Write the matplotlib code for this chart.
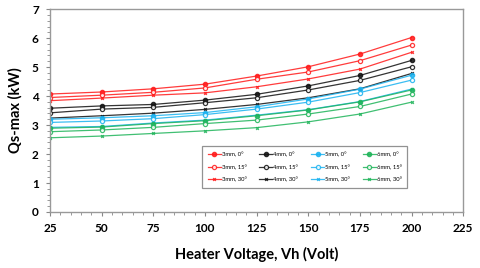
import matplotlib
matplotlib.use("Agg")
import matplotlib.pyplot as plt
from matplotlib.ticker import MultipleLocator

plt.rcParams["font.family"] = ["Lato", "DejaVu Sans"]

# heater voltage (V)
voltage = [25, 50, 75, 100, 125, 150, 175, 200]

# Qs-max (kW), per wick diameter and tilt angle
q_3mm_0 = [4.07, 4.14, 4.25, 4.41, 4.69, 5.01, 5.45, 6.02]
q_3mm_15 = [3.95, 4.03, 4.13, 4.28, 4.58, 4.83, 5.22, 5.76]
q_3mm_30 = [3.84, 3.93, 4.03, 4.11, 4.32, 4.59, 4.93, 5.51]
q_4mm_0 = [3.58, 3.66, 3.71, 3.86, 4.06, 4.35, 4.71, 5.23]
q_4mm_15 = [3.42, 3.55, 3.61, 3.77, 3.94, 4.21, 4.54, 5.01]
q_4mm_30 = [3.24, 3.32, 3.41, 3.54, 3.71, 3.94, 4.25, 4.78]
q_5mm_0 = [3.20, 3.25, 3.32, 3.43, 3.63, 3.90, 4.24, 4.72]
q_5mm_15 = [3.09, 3.14, 3.22, 3.36, 3.55, 3.79, 4.12, 4.55]
q_5mm_30 = [2.92, 2.95, 3.07, 3.17, 3.34, 3.53, 3.81, 4.24]
q_6mm_0 = [2.89, 2.93, 3.05, 3.15, 3.32, 3.52, 3.80, 4.21]
q_6mm_15 = [2.77, 2.83, 2.92, 3.05, 3.17, 3.38, 3.64, 4.07]
q_6mm_30 = [2.56, 2.62, 2.71, 2.80, 2.91, 3.11, 3.38, 3.79]

diameters = ["3mm", "4mm", "5mm", "6mm"]
angles = ["0°", "15°", "30°"]
series = [
    [q_3mm_0, q_3mm_15, q_3mm_30],
    [q_4mm_0, q_4mm_15, q_4mm_30],
    [q_5mm_0, q_5mm_15, q_5mm_30],
    [q_6mm_0, q_6mm_15, q_6mm_30],
]
colors = ["#ff1a1a", "#111111", "#1ab2f0", "#1fb45a"]

fig = plt.figure(figsize=(4.8, 2.68), dpi=100)
ax = fig.add_axes([0.104, 0.209, 0.861, 0.757])

for d, c, group in zip(diameters, colors, series):
    for a, vals in zip(angles, group):
        if a == "0°":
            kw = dict(marker="o", markersize=3, markerfacecolor=c, markeredgecolor=c)
        elif a == "15°":
            kw = dict(marker="o", markersize=3, markerfacecolor="white",
                      markeredgecolor=c, markeredgewidth=0.9)
        else:
            kw = dict(marker="x", markersize=2, markeredgecolor=c,
                      markeredgewidth=0.9)
        ax.plot(voltage, vals, color=c, lw=0.9, alpha=0.85,
                label=f"{d}, {a}", **kw)

ax.set_xlim(25, 225)
ax.set_ylim(0, 7)
ax.xaxis.set_major_locator(MultipleLocator(25))
ax.xaxis.set_minor_locator(MultipleLocator(5))
ax.yaxis.set_major_locator(MultipleLocator(1))
ax.yaxis.set_minor_locator(MultipleLocator(0.2))
ax.tick_params(which="major", direction="out", length=3, width=0.8,
               color="#888888", labelsize=8.5, pad=5)
ax.tick_params(which="minor", direction="out", length=2, width=0.6,
               color="#888888")
for lab in ax.get_xticklabels() + ax.get_yticklabels():
    lab.set_fontweight("bold")
for sp in ax.spines.values():
    sp.set_color("#999999")
    sp.set_linewidth(1.0)

ax.set_xlabel("Heater Voltage, Vh (Volt)", fontsize=10.5, fontweight="bold",
              labelpad=9)
ax.set_ylabel("Qs-max (kW)", fontsize=10.5, fontweight="bold", labelpad=7)

leg = ax.legend(ncol=4, loc="lower left", bbox_to_anchor=(0.362, 0.105),
                fontsize=4.2, frameon=True, fancybox=False, handlelength=2.2,
                handletextpad=0.2, columnspacing=2.2, labelspacing=1.25,
                borderpad=0.9)
leg.get_frame().set_edgecolor("#777777")
leg.get_frame().set_linewidth(0.9)

fig.savefig("out.png", dpi=100)
